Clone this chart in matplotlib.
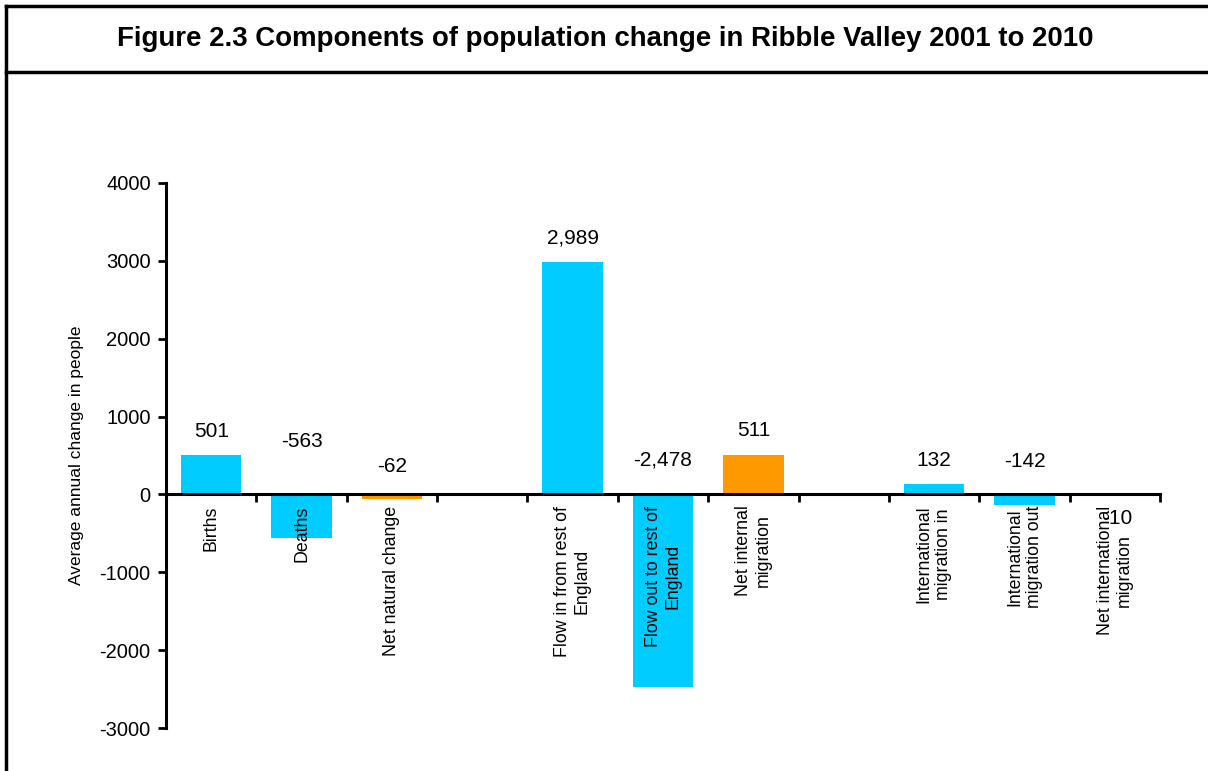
import matplotlib.pyplot as plt
from matplotlib.lines import Line2D

plt.rcParams['font.family'] = ['Liberation Sans', 'DejaVu Sans']
plt.rcParams['axes.unicode_minus'] = False

# data
groups = [
    ['Births', 'Deaths', 'Net natural change'],
    ['Flow in from rest of\nEngland', 'Flow out to rest of\nEngland', 'Net internal\nmigration'],
    ['International\nmigration in', 'International\nmigration out', 'Net international\nmigration'],
]
values = [501, -563, -62, 2989, -2478, 511, 132, -142, -10]
value_labels = ['501', '-563', '-62', '2,989', '-2,478', '511', '132', '-142', '-10']
is_net = [False, False, True, False, False, True, False, False, True]

# label placement (data units), as set by hand in the original
label_y = [810, 680, 360, 3300, 440, 820, 440, 420, -310]
label_dx = [0, 0, 0, 0, 0, 0, 0, 0, 0.03]

CYAN = '#00CCFF'
ORANGE = '#FF9900'

fig = plt.figure(figsize=(12.08, 7.71), dpi=100)
ax = fig.add_axes([166 / 1208, 1 - 728 / 771, (1160 - 166) / 1208, (728 - 183) / 771])

# x positions: 3 bars per group, one empty slot between groups
xs, names = [], []
for g, cats in enumerate(groups):
    for i, c in enumerate(cats):
        xs.append(g * 4 + i)
        names.append(c)
colors = [ORANGE if n else CYAN for n in is_net]

ax.bar(xs, values, width=0.67, color=colors)

for x, ly, dx, lab in zip(xs, label_y, label_dx, value_labels):
    ax.text(x + dx, ly, lab, ha='center', va='center', fontsize=15)

ax.set_xlim(-0.5, 10.5)
ax.set_ylim(-3000, 4000)
ax.set_yticks(range(-3000, 4001, 1000))
ax.tick_params(axis='y', labelsize=14.5, width=2, length=6, direction='out', pad=5)
ax.set_ylabel('Average annual change in people', fontsize=12.5, labelpad=11)

# tick marks at slot edges, names at slot centres
ax.set_xticks([i - 0.5 for i in range(12)])
ax.set_xticklabels([])
ax.set_xticks(xs, minor=True)
ax.set_xticklabels(names, minor=True)
ax.tick_params(axis='x', which='major', width=2, length=6, direction='out')
ax.tick_params(axis='x', which='minor', length=0, pad=8, labelrotation=90, labelsize=12.8)
for t in ax.get_xticklabels(minor=True):
    t.set_ha('center')
    t.set_va('top')
    t.set_multialignment('center')
    t.set_linespacing(1.65)

for s in ['top', 'right']:
    ax.spines[s].set_visible(False)
ax.spines['bottom'].set_position(('data', 0))
ax.spines['bottom'].set_linewidth(2.2)
ax.spines['left'].set_linewidth(2.2)
ax.spines['bottom'].set_zorder(5)

# frame and title box
fig.add_artist(Line2D([6 / 1208, 6 / 1208], [0, 1 - 6 / 771], color='black', lw=2.5))
fig.add_artist(Line2D([6 / 1208, 1], [1 - 6 / 771, 1 - 6 / 771], color='black', lw=2.5))
fig.add_artist(Line2D([6 / 1208, 1], [1 - 72 / 771, 1 - 72 / 771], color='black', lw=2.5))
fig.text(605 / 1208, 1 - 39 / 771,
         'Figure 2.3 Components of population change in Ribble Valley 2001 to 2010',
         ha='center', va='center', fontsize=19.9, fontweight='bold')

fig.savefig('out.png', dpi=100)
